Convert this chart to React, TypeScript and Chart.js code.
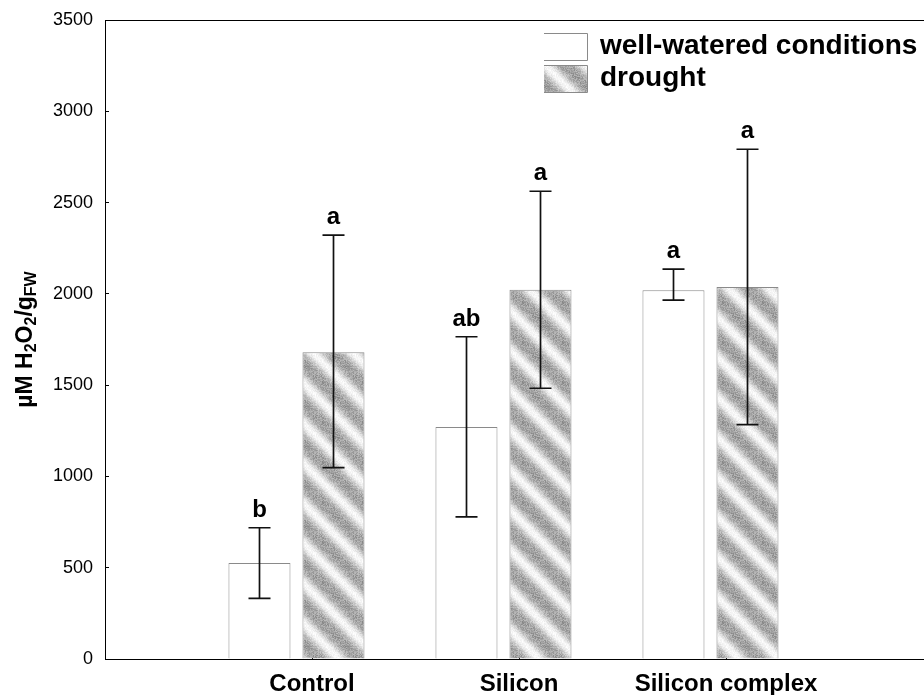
import { useEffect, useRef } from 'react';
import { Chart, registerables } from 'chart.js';

Chart.register(...registerables);

// Treatments along the x axis
const categories = ['Control', 'Silicon', 'Silicon complex'];
const seriesNames = ['well-watered conditions', 'drought'];

// Mean H2O2 content (µM H2O2 / g FW)
const wellWatered = [526, 1271, 2020];
const drought = [1680, 2022, 2037];

// Error bar ends
const wellLow = [332, 778, 1966];
const wellHigh = [719, 1765, 2136];
const droughtLow = [1048, 1483, 1284];
const droughtHigh = [2322, 2562, 2792];

// Letters of significance above each bar
const wellLetters = ['b', 'ab', 'a'];
const droughtLetters = ['a', 'a', 'a'];

// Y axis range
const yMin = 0;
const yMax = 3500;
const yStep = 500;

const FONT = 'Arial, "Liberation Sans", Helvetica, sans-serif';
const CANVAS_W = 940;
const CANVAS_H = 695;

function makeHatch(ctx: CanvasRenderingContext2D): CanvasPattern | string {
  const size = 40;
  const c = document.createElement('canvas');
  c.width = size;
  c.height = size;
  const g = c.getContext('2d');
  if (!g) return '#bbb';
  const img = g.createImageData(size, size);
  for (let y = 0; y < size; y++) {
    for (let x = 0; x < size; x++) {
      const phase = ((((y - x) % size) + size) % size) / size;
      const band = 0.5 + 0.5 * Math.cos(2 * Math.PI * phase);
      const light = Math.pow(band, 1.4);
      // small grain so the grey reads as a dithered tone
      const h = Math.sin((x * 12.9898 + y * 78.233) * 0.5) * 43758.5453;
      const grain = (h - Math.floor(h)) * 2 - 1;
      let v = 160 + 88 * light + grain * (1 - light * 0.7) * 26;
      v = Math.max(0, Math.min(255, Math.round(v)));
      const k = (y * size + x) * 4;
      img.data[k] = v;
      img.data[k + 1] = v;
      img.data[k + 2] = v;
      img.data[k + 3] = 255;
    }
  }
  g.putImageData(img, 0, 0);
  return ctx.createPattern(c, 'repeat') || '#bbb';
}

// Error bars and significance letters
const errorBarPlugin = {
  id: 'errorBars',
  afterDatasetsDraw(chart: any) {
    const { ctx } = chart;
    const yScale = chart.scales.y;
    chart.data.datasets.forEach((ds: any, di: number) => {
      const meta = chart.getDatasetMeta(di);
      meta.data.forEach((el: any, i: number) => {
        const x = Math.round(el.x) + 0.5;
        const yLo = yScale.getPixelForValue(ds.errLow[i]);
        const yHi = yScale.getPixelForValue(ds.errHigh[i]);
        const cap = 11;
        ctx.save();
        ctx.strokeStyle = '#111';
        ctx.lineWidth = 1.7;
        ctx.beginPath();
        ctx.moveTo(x, yLo);
        ctx.lineTo(x, yHi);
        ctx.moveTo(x - cap, yLo);
        ctx.lineTo(x + cap, yLo);
        ctx.moveTo(x - cap, yHi);
        ctx.lineTo(x + cap, yHi);
        ctx.stroke();
        ctx.fillStyle = '#000';
        ctx.font = `bold 24px ${FONT}`;
        ctx.textAlign = 'center';
        ctx.textBaseline = 'alphabetic';
        ctx.fillText(ds.letters[i], x, yHi - 11);
        ctx.restore();
      });
    });
  },
};

// Top and right edges of the plot frame
const framePlugin = {
  id: 'frame',
  afterDraw(chart: any) {
    const { ctx, chartArea } = chart;
    ctx.save();
    ctx.strokeStyle = '#000';
    ctx.lineWidth = 1;
    ctx.beginPath();
    ctx.moveTo(chartArea.left, chartArea.top + 0.5);
    ctx.lineTo(chartArea.right, chartArea.top + 0.5);
    ctx.lineTo(chartArea.right, chartArea.bottom);
    ctx.stroke();
    ctx.restore();
  },
};

// Legend in the upper right corner of the plot
const legendPlugin = {
  id: 'boxLegend',
  afterDraw(chart: any) {
    const { ctx, chartArea } = chart;
    const left = chartArea.left + 439;
    const top = chartArea.top + 13;
    const w = 43;
    const h = 27;
    const rowGap = 32;
    ctx.save();
    chart.data.datasets.forEach((ds: any, i: number) => {
      const y = top + i * rowGap;
      ctx.fillStyle = ds.backgroundColor;
      ctx.fillRect(left, y, w, h);
      ctx.strokeStyle = '#8a8a8a';
      ctx.lineWidth = 1;
      ctx.beginPath();
      ctx.moveTo(left, y + 0.5);
      ctx.lineTo(left + w + 0.5, y + 0.5);
      ctx.lineTo(left + w + 0.5, y + h + 0.5);
      ctx.lineTo(left, y + h + 0.5);
      ctx.stroke();
      ctx.fillStyle = '#000';
      ctx.font = `bold 28px ${FONT}`;
      ctx.textAlign = 'left';
      ctx.textBaseline = 'middle';
      ctx.fillText(ds.label, left + 56, y + h / 2);
    });
    ctx.restore();
  },
};

// Rotated y axis title with subscripts
const yTitlePlugin = {
  id: 'yTitle',
  afterDraw(chart: any) {
    const { ctx, chartArea } = chart;
    const parts: [string, boolean][] = [
      ['\u00b5M H', false],
      ['2', true],
      ['O', false],
      ['2', true],
      ['/g', false],
      ['FW', true],
    ];
    const mainFont = `bold 23px ${FONT}`;
    const subFont = `bold 16px ${FONT}`;
    ctx.save();
    let total = 0;
    parts.forEach(([t, sub]) => {
      ctx.font = sub ? subFont : mainFont;
      total += ctx.measureText(t).width;
    });
    ctx.translate(26, (chartArea.top + chartArea.bottom) / 2);
    ctx.rotate(-Math.PI / 2);
    ctx.fillStyle = '#000';
    ctx.textBaseline = 'middle';
    ctx.textAlign = 'left';
    let x = -total / 2;
    parts.forEach(([t, sub]) => {
      ctx.font = sub ? subFont : mainFont;
      ctx.fillText(t, x, sub ? 6 : 0);
      x += ctx.measureText(t).width;
    });
    ctx.restore();
  },
};

export default function App() {
  const canvasRef = useRef<HTMLCanvasElement | null>(null);

  useEffect(() => {
    const canvas = canvasRef.current;
    if (!canvas) return;
    const ctx = canvas.getContext('2d');
    if (!ctx) return;
    const hatch = makeHatch(ctx);
    const positions = categories.map((_, i) => i + 1);

    const chart = new Chart(ctx, {
      type: 'bar',
      data: {
        datasets: [
          {
            label: seriesNames[0],
            xAxisID: 'xb',
            data: wellWatered.map((v, i) => ({ x: positions[i], y: v })),
            backgroundColor: '#ffffff',
            borderColor: '#8a8a8a',
            borderWidth: 1,
            errLow: wellLow,
            errHigh: wellHigh,
            letters: wellLetters,
          } as any,
          {
            label: seriesNames[1],
            xAxisID: 'xb',
            data: drought.map((v, i) => ({ x: positions[i], y: v })),
            backgroundColor: hatch,
            borderColor: '#8a8a8a',
            borderWidth: 1,
            errLow: droughtLow,
            errHigh: droughtHigh,
            letters: droughtLetters,
          } as any,
        ],
      },
      options: {
        responsive: false,
        animation: false,
        devicePixelRatio: 1,
        layout: { padding: { top: 20, right: CANVAS_W - 933, bottom: 0, left: 0 } },
        datasets: {
          bar: { categoryPercentage: 0.715, barPercentage: 0.838 },
        },
        plugins: {
          legend: { display: false },
          tooltip: { enabled: false },
        },
        scales: {
          x: {
            type: 'linear',
            position: 'bottom',
            offset: false,
            min: 0,
            max: categories.length + 1,
            afterBuildTicks: (s: any) => {
              s.ticks = positions.map((p) => ({ value: p }));
            },
            afterFit: (s: any) => {
              s.height = 36;
              s.paddingLeft = 0;
              s.paddingRight = 0;
            },
            ticks: {
              callback: (v: any) => categories[Number(v) - 1] ?? '',
              color: '#000',
              font: { family: FONT, size: 24, weight: 'bold' },
              padding: 15,
              maxRotation: 0,
              autoSkip: false,
            },
            grid: {
              offset: false,
              drawOnChartArea: false,
              drawTicks: true,
              tickLength: -4,
              tickColor: '#000',
            },
            border: { color: '#000', width: 1 },
          },
          xb: {
            type: 'linear',
            display: false,
            offset: false,
            min: 0.075,
            max: categories.length + 1.075,
            grid: { offset: false },
            afterBuildTicks: (s: any) => {
              s.ticks = positions.map((p) => ({ value: p }));
            },
          },
          y: {
            min: yMin,
            max: yMax,
            afterFit: (s: any) => {
              s.width = 105;
              s.paddingTop = 0;
              s.paddingBottom = 0;
            },
            ticks: {
              stepSize: yStep,
              color: '#000',
              font: { family: FONT, size: 18 },
              padding: 16,
              callback: (v: any) => String(v),
            },
            grid: {
              drawOnChartArea: false,
              drawTicks: true,
              tickLength: -4,
              tickColor: '#000',
            },
            border: { color: '#000', width: 1 },
          },
        },
      } as any,
      plugins: [errorBarPlugin, framePlugin, legendPlugin, yTitlePlugin],
    });

    return () => chart.destroy();
  }, []);

  return (
    <div
      style={{
        position: 'absolute',
        left: 0,
        top: 0,
        width: 924,
        height: CANVAS_H,
        overflow: 'hidden',
        background: '#fff',
      }}
    >
      <canvas ref={canvasRef} width={CANVAS_W} height={CANVAS_H} style={{ display: 'block' }} />
    </div>
  );
}
